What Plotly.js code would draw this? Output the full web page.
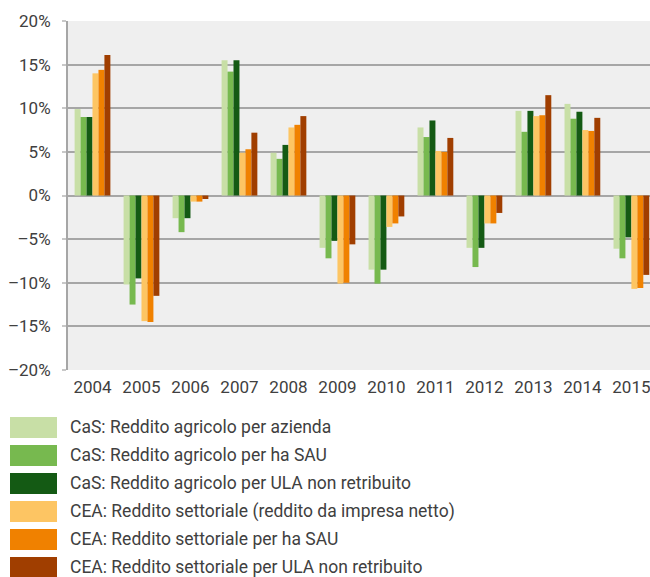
<!DOCTYPE html>
<html>
<head>
<meta charset="utf-8">
<script src="https://cdn.plot.ly/plotly-3.0.1.min.js"></script>
<style>
html, body { margin: 0; padding: 0; background: #ffffff; overflow: hidden; }
#chart { width: 650px; height: 577px; }
</style>
</head>
<body>
<div id="chart"></div>
<script>
const years = ['2004','2005','2006','2007','2008','2009','2010','2011','2012','2013','2014','2015'];
const seriesNames = [
  'CaS: Reddito agricolo per azienda',
  'CaS: Reddito agricolo per ha SAU',
  'CaS: Reddito agricolo per ULA non retribuito',
  'CEA: Reddito settoriale (reddito da impresa netto)',
  'CEA: Reddito settoriale per ha SAU',
  'CEA: Reddito settoriale per ULA non retribuito'
];
const casAzienda = [9.9, -10.2, -2.6, 15.5, 4.9, -6.0, -8.5, 7.8, -6.0, 9.7, 10.5, -6.1];
const casHaSAU   = [9.0, -12.5, -4.2, 14.2, 4.2, -7.2, -10.1, 6.7, -8.2, 7.3, 8.8, -7.2];
const casULA     = [9.0, -9.5, -2.6, 15.5, 5.8, -5.2, -8.5, 8.6, -6.0, 9.7, 9.6, -4.8];
const ceaNetto   = [14.0, -14.4, -0.7, 4.9, 7.8, -10.1, -3.6, 5.1, -3.2, 9.1, 7.5, -10.7];
const ceaHaSAU   = [14.4, -14.5, -0.7, 5.3, 8.1, -10.0, -3.2, 5.0, -3.2, 9.2, 7.4, -10.6];
const ceaULA     = [16.1, -11.5, -0.4, 7.2, 9.1, -5.6, -2.4, 6.6, -2.0, 11.5, 8.9, -9.1];
const yTickVals = [-20, -15, -10, -5, 0, 5, 10, 15, 20];
const yTickText = ['–20%', '–15%', '–10%', '–5%', '0%', '5%', '10%', '15%', '20%'];

const colors = ['#c8dfa6', '#77b94f', '#145a14', '#fdc563', '#f08100', '#a03e00'];
const seriesValues = [casAzienda, casHaSAU, casULA, ceaNetto, ceaHaSAU, ceaULA];

const traces = seriesValues.map((vals, i) => ({
  type: 'bar',
  name: seriesNames[i],
  x: years,
  y: vals,
  marker: { color: colors[i], line: { width: 0 } },
  hoverinfo: 'skip'
}));

const fam = 'Roboto, "Noto Sans", sans-serif';
const txtColor = '#404040';

const shapes = [];
const annotations = [];
seriesNames.forEach((name, i) => {
  const cy = 427.5 + i * 28;         // row centre in page pixels
  const base = 370;                  // plot bottom in page pixels
  shapes.push({
    type: 'rect', xref: 'paper', yref: 'paper',
    xsizemode: 'pixel', ysizemode: 'pixel', xanchor: 0, yanchor: 0,
    x0: 10 - 68, x1: 57 - 68,
    y0: base - (cy + 10.5), y1: base - (cy - 10.5),
    fillcolor: colors[i], line: { width: 0 }
  });
  annotations.push({
    xref: 'paper', yref: 'paper', x: 0, y: 0,
    xanchor: 'left', yanchor: 'middle', align: 'left',
    yshift: -(cy - base) + 0.5, xshift: 0,
    text: name, showarrow: false,
    font: { family: fam, size: 17.5, color: txtColor }
  });
});

const layout = {
  width: 650, height: 577,
  margin: { l: 68, r: 0, t: 21, b: 207, pad: 0 },
  paper_bgcolor: '#ffffff',
  plot_bgcolor: '#efefef',
  font: { family: fam, size: 17, color: txtColor },
  showlegend: false,
  barmode: 'group',
  bargap: 0.27,
  bargroupgap: 0,
  xaxis: {
    type: 'category',
    range: [-0.5, 11.38],
    showgrid: false,
    zeroline: false,
    showline: false,
    ticks: '',
    tickfont: { family: fam, size: 17, color: txtColor },
    ticklabelstandoff: 5,
    fixedrange: true
  },
  yaxis: {
    range: [-20, 20],
    tickvals: yTickVals,
    ticktext: yTickText,
    showgrid: true,
    gridcolor: '#a6a6a6',
    gridwidth: 2,
    zeroline: true,
    zerolinecolor: '#a6a6a6',
    zerolinewidth: 2,
    showline: true,
    linecolor: '#a6a6a6',
    linewidth: 2,
    ticks: 'outside',
    ticklen: 4,
    tickcolor: '#c8c8c8',
    tickwidth: 2,
    tickfont: { family: fam, size: 17, color: txtColor },
    ticklabelstandoff: 8,
    fixedrange: true
  },
  shapes: shapes,
  annotations: annotations
};

Plotly.newPlot('chart', traces, layout, { displayModeBar: false, staticPlot: true });
</script>
</body>
</html>
